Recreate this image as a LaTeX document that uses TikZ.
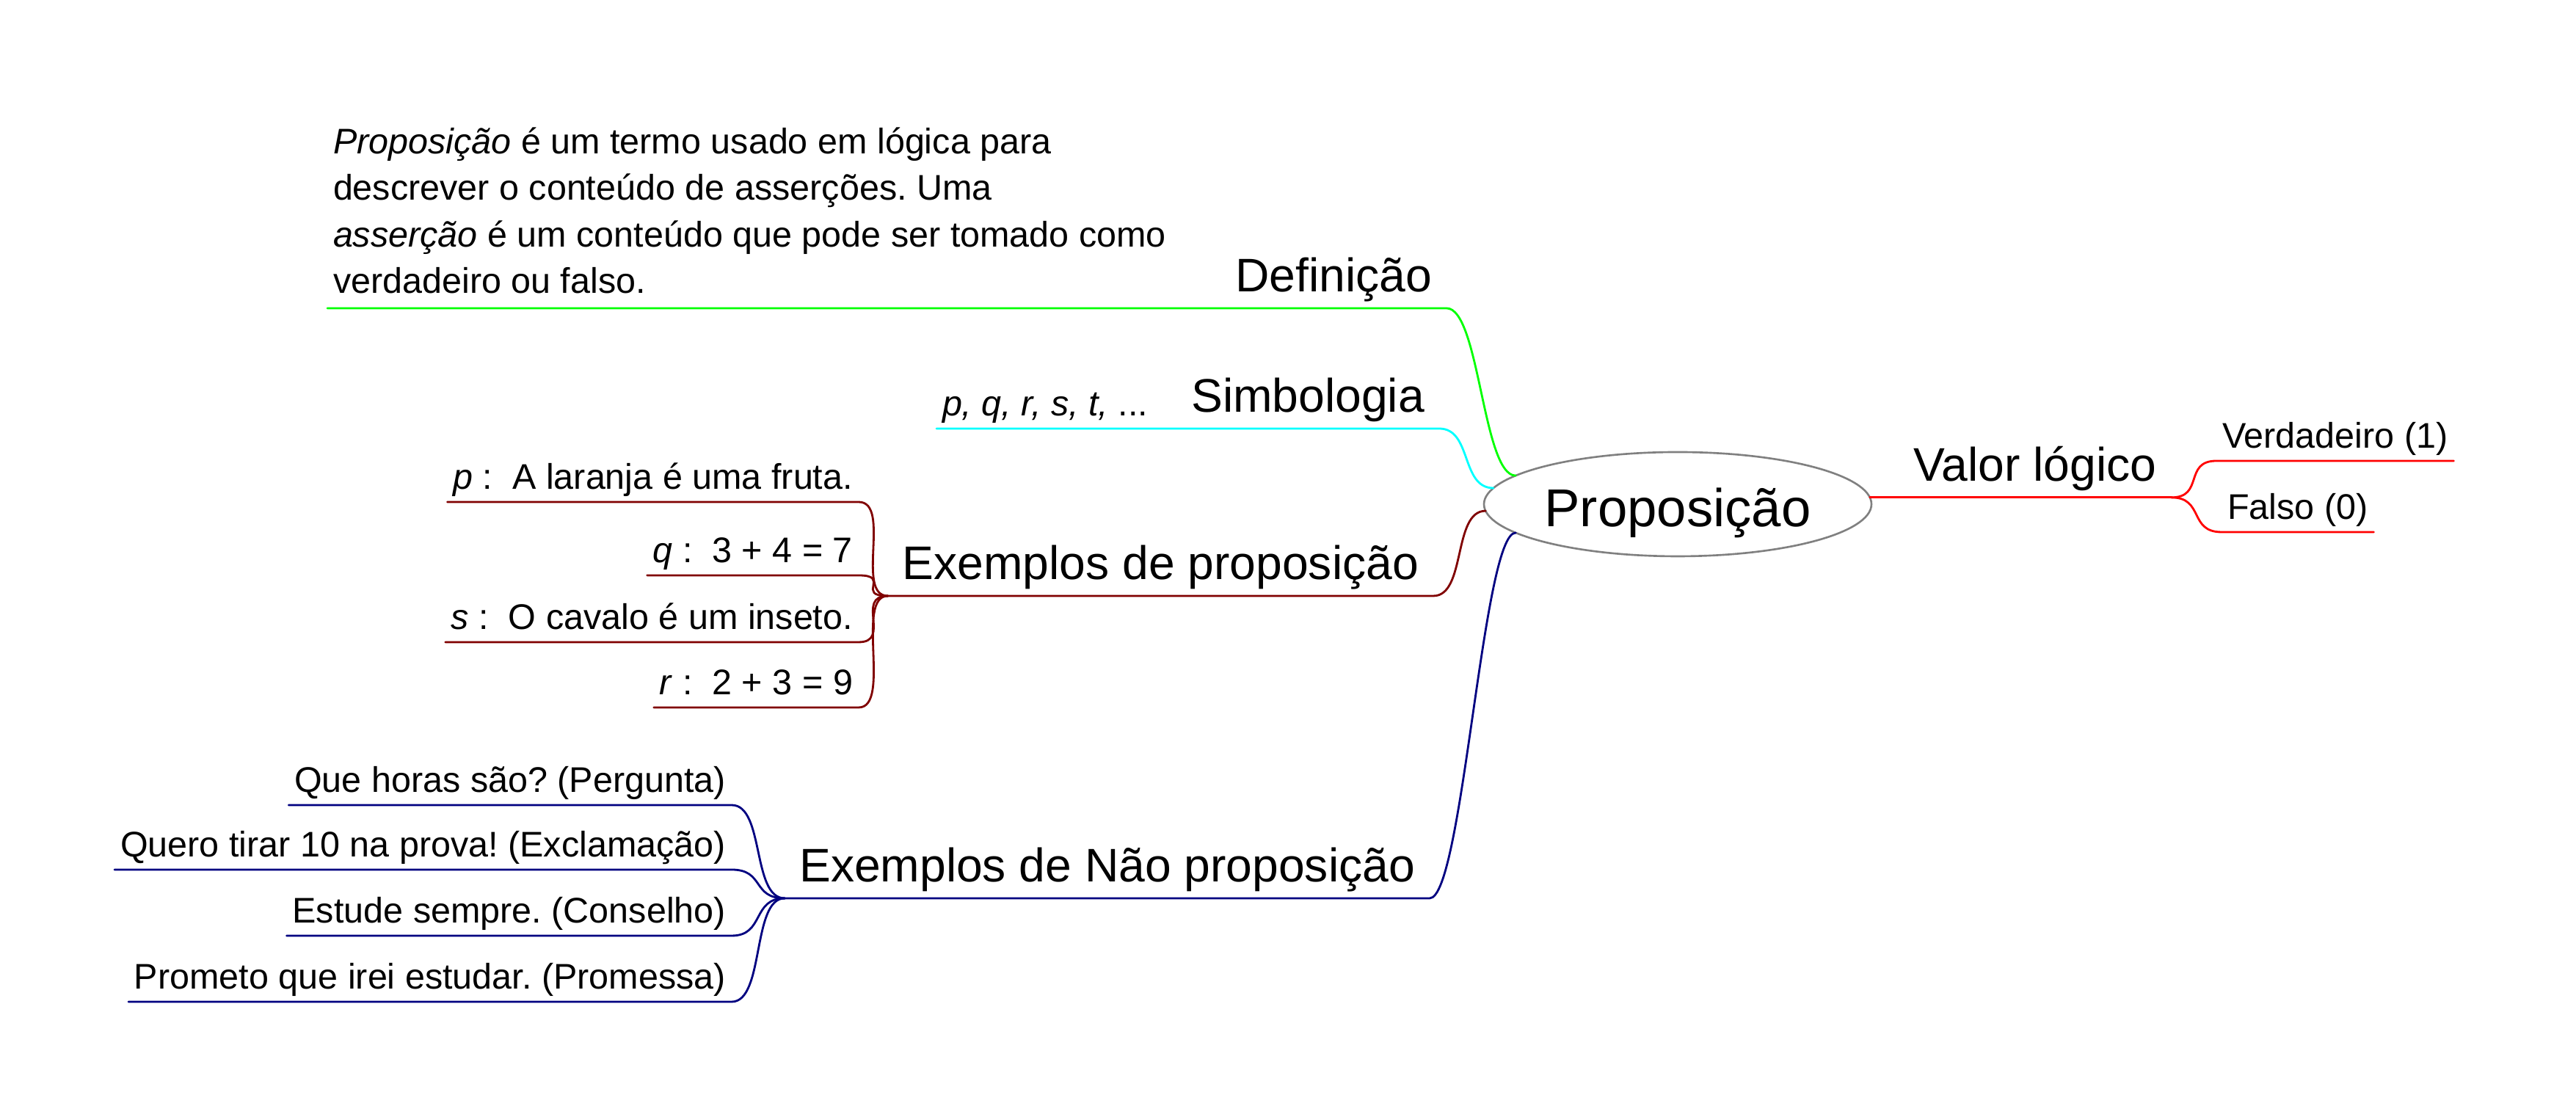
\documentclass[tikz,border=0pt]{standalone}
\usepackage{fontspec}
\setmainfont{Liberation Sans}
\usetikzlibrary{shapes.geometric}
\frenchspacing

\definecolor{verdelima}{HTML}{00FF00}
\definecolor{ciano}{HTML}{00FFFF}
\definecolor{vinho}{HTML}{800000}
\definecolor{marinho}{HTML}{000080}
\definecolor{vermelho}{HTML}{FF0000}

\begin{document}
\begin{tikzpicture}[
    centro/.style={ellipse, draw=gray, line width=0.75pt, minimum width=5.28cm,
      minimum height=1.42cm, inner sep=0pt, outer sep=0pt,
      text height=0.75cm, text depth=0.13cm, font=\fontsize{20.66}{24}\selectfont},
    ramo/.style={inner xsep=0.2cm, inner ysep=0pt, outer sep=0pt,
      text depth=0.22cm, font=\fontsize{18.27}{22}\selectfont},
    folha/.style={inner xsep=0.08cm, inner ysep=0pt, outer sep=0pt,
      text depth=0.17cm, font=\fontsize{13.8}{18}\selectfont},
    paragrafo/.style={align=left, inner xsep=0.08cm, inner ysep=0.2cm, outer sep=0pt,
      font=\fontsize{13.8}{18}\selectfont},
    linha/.style={line width=0.8pt, line cap=round},
  ]
  \useasboundingbox (0,0) rectangle (35.10,15.22);

  % tópico central
  \node[centro] (prop) at (22.86,8.35) {Proposição};

  % ramos principais
  \node[ramo, anchor=south east] (defn) at (19.71,11.02) {Definição};
  \node[ramo, anchor=south east] (simb) at (19.61,9.38) {Simbologia};
  \node[ramo, anchor=south east] (expro) at (19.53,7.10) {Exemplos de proposição};
  \node[ramo, anchor=south east] (exnao) at (19.48,2.98) {Exemplos de Não proposição};
  \node[ramo, anchor=south west] (valor) at ([xshift=4mm]prop.2) {Valor lógico};

  % definição e simbologia
  \node[paragrafo, anchor=south west] (deftxt) at (4.46,11.02)
       {\textit{Proposição} é um termo usado em lógica para\\
        descrever o conteúdo de asserções. Uma\\
        \textit{asserção} é um conteúdo que pode ser tomado como\\
        verdadeiro ou falso.};
  \node[folha, anchor=south west] (symtxt) at (12.76,9.38) {\textit{p, q, r, s, t,} ...};

  % exemplos de proposição
  \node[folha, anchor=south east] (lp) at (11.70,8.38) {\textit{p} :\ \ A laranja é uma fruta.};
  \node[folha, anchor=south east] (lq) at (11.70,7.38) {\textit{q} :\ \ 3 + 4 = 7};
  \node[folha, anchor=south east] (ls) at (11.70,6.47) {\textit{s} :\ \ O cavalo é um inseto.};
  \node[folha, anchor=south east] (lr) at (11.70,5.58) {\textit{r} :\ \ 2 + 3 = 9};

  % exemplos de não proposição
  \node[folha, anchor=south east] (n1) at (9.97,4.25) {Que horas são? (Pergunta)};
  \node[folha, anchor=south east] (n2) at (9.97,3.37) {Quero tirar 10 na prova! (Exclamação)};
  \node[folha, anchor=south east] (n3) at (9.97,2.47) {Estude sempre. (Conselho)};
  \node[folha, anchor=south east] (n4) at (9.97,1.57) {Prometo que irei estudar. (Promessa)};

  % valor lógico
  \node[folha, anchor=south west] (verd) at (30.20,8.94) {Verdadeiro (1)};
  \node[folha, anchor=south west] (falso) at (30.27,7.97) {Falso (0)};

  % ligações ao centro
  \draw[linha, verdelima] (deftxt.south west) -- (defn.south east)
       .. controls +(0.45,0) and +(-0.45,0) .. (prop.170);
  \draw[linha, ciano] (symtxt.south west) -- (simb.south east)
       .. controls +(0.45,0) and +(-0.45,0) .. (prop.175);
  \draw[linha, vinho] (expro.south west) -- (expro.south east)
       .. controls +(0.45,0) and +(-0.45,0) .. (prop.182);
  \draw[linha, marinho] (exnao.south west) -- (exnao.south east)
       .. controls +(0.45,0) and +(-0.45,0) .. (prop.190);
  \draw[linha, vermelho] (prop.2) -- (valor.south east);

  % folhas de "Exemplos de proposição"
  \draw[linha, vinho] (lp.south west) -- (lp.south east)
       .. controls +(0.45,0) and +(-0.45,0) .. (expro.south west);
  \draw[linha, vinho] (lq.south west) -- (lq.south east)
       .. controls +(0.45,0) and +(-0.45,0) .. (expro.south west);
  \draw[linha, vinho] (ls.south west) -- (ls.south east)
       .. controls +(0.45,0) and +(-0.45,0) .. (expro.south west);
  \draw[linha, vinho] (lr.south west) -- (lr.south east)
       .. controls +(0.45,0) and +(-0.45,0) .. (expro.south west);

  % folhas de "Exemplos de Não proposição"
  \draw[linha, marinho] (n1.south west) -- (n1.south east)
       .. controls +(0.45,0) and +(-0.45,0) .. (exnao.south west);
  \draw[linha, marinho] (n2.south west) -- (n2.south east)
       .. controls +(0.45,0) and +(-0.45,0) .. (exnao.south west);
  \draw[linha, marinho] (n3.south west) -- (n3.south east)
       .. controls +(0.45,0) and +(-0.45,0) .. (exnao.south west);
  \draw[linha, marinho] (n4.south west) -- (n4.south east)
       .. controls +(0.45,0) and +(-0.45,0) .. (exnao.south west);

  % folhas de "Valor lógico"
  \draw[linha, vermelho] (valor.south east)
       .. controls +(0.45,0) and +(-0.45,0) .. (verd.south west) -- (verd.south east);
  \draw[linha, vermelho] (valor.south east)
       .. controls +(0.45,0) and +(-0.45,0) .. (falso.south west) -- (falso.south east);

\end{tikzpicture}
\end{document}
